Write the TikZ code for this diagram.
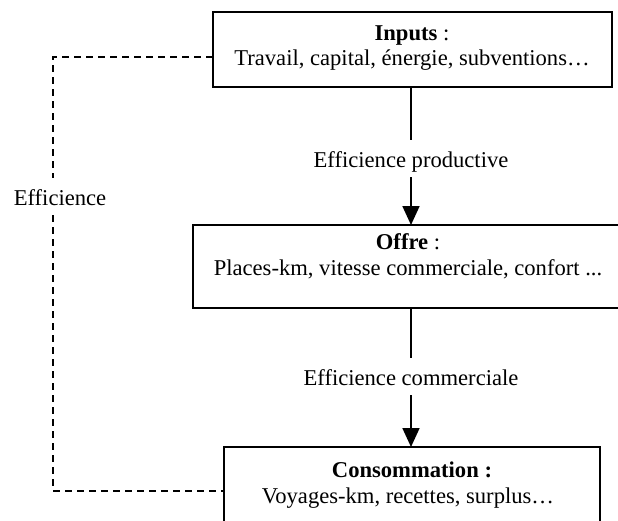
\documentclass[tikz,border=0pt]{standalone}
\usepackage{fontspec}
\setmainfont{Liberation Serif}
\usetikzlibrary{arrows.meta,calc}
\begin{document}
\begin{tikzpicture}[x=0.5pt,y=-0.5pt,
  box/.style={draw, line width=1.1pt, fill=white, inner sep=0pt, outer sep=0pt},
  txt/.style={font=\fontsize{11.3}{13}\selectfont, inner sep=0pt, anchor=base},
  gaplabel/.style={txt, text height=13.5pt, text depth=5pt},
  flow/.style={line width=0.9pt},
  flowhead/.style={line width=0.9pt, -{Triangle[length=9.5pt,width=8.5pt]}},
  loop/.style={line width=0.6pt, dash pattern=on 3.5pt off 2.5pt}]
\useasboundingbox (0,0) rectangle (618,521);
\clip (0,0) rectangle (618,521);

% boxes
\node (inputs) [box, minimum width=199.5pt, minimum height=37.5pt] at (412.5,49.5) {};
\node (offre)  [box, minimum width=219.5pt, minimum height=41.5pt] at (412.5,266.5) {};
\node (conso)  [box, minimum width=188pt,   minimum height=44pt]   at (412,491) {};

% box texts
\node (t1a) [txt] at (412,40) {\textbf{Inputs} :};
\node (t1b) [txt] at (412,65) {Travail, capital, énergie, subventions…};
\node (t2a) [txt] at (408,249) {\textbf{Offre} :};
\node (t2b) [txt] at (408,275) {Places-km, vitesse commerciale, confort ...};
\node (t3a) [txt] at (412,477) {\textbf{Consommation :}};
\node (t3b) [txt] at (408,503) {Voyages-km, recettes, surplus…};

% arrow labels
\node (lprod) [gaplabel] at (411,167) {Efficience productive};
\node (lcomm) [gaplabel] at (411,385) {Efficience commerciale};
\node (leff)  [gaplabel] at (60,205) {Efficience};

% arrows
\coordinate (ax) at (411,0);
\draw[flow] (inputs.south -| ax) -- (lprod.north -| ax);
\draw[flowhead] (lprod.south -| ax) -- (offre.north -| ax);
\draw[flow] (offre.south -| ax) -- (lcomm.north -| ax);
\draw[flowhead] (lcomm.south -| ax) -- (conso.north -| ax);

% dashed efficiency loop
\coordinate (lx) at (53,0);
\coordinate (ty) at (0,57);
\draw[loop] (inputs.west |- ty) -- (lx |- ty) -- (leff.north -| lx);
\draw[loop] (leff.south -| lx) -- (lx |- conso.west) -- (conso.west);
\end{tikzpicture}
\end{document}
